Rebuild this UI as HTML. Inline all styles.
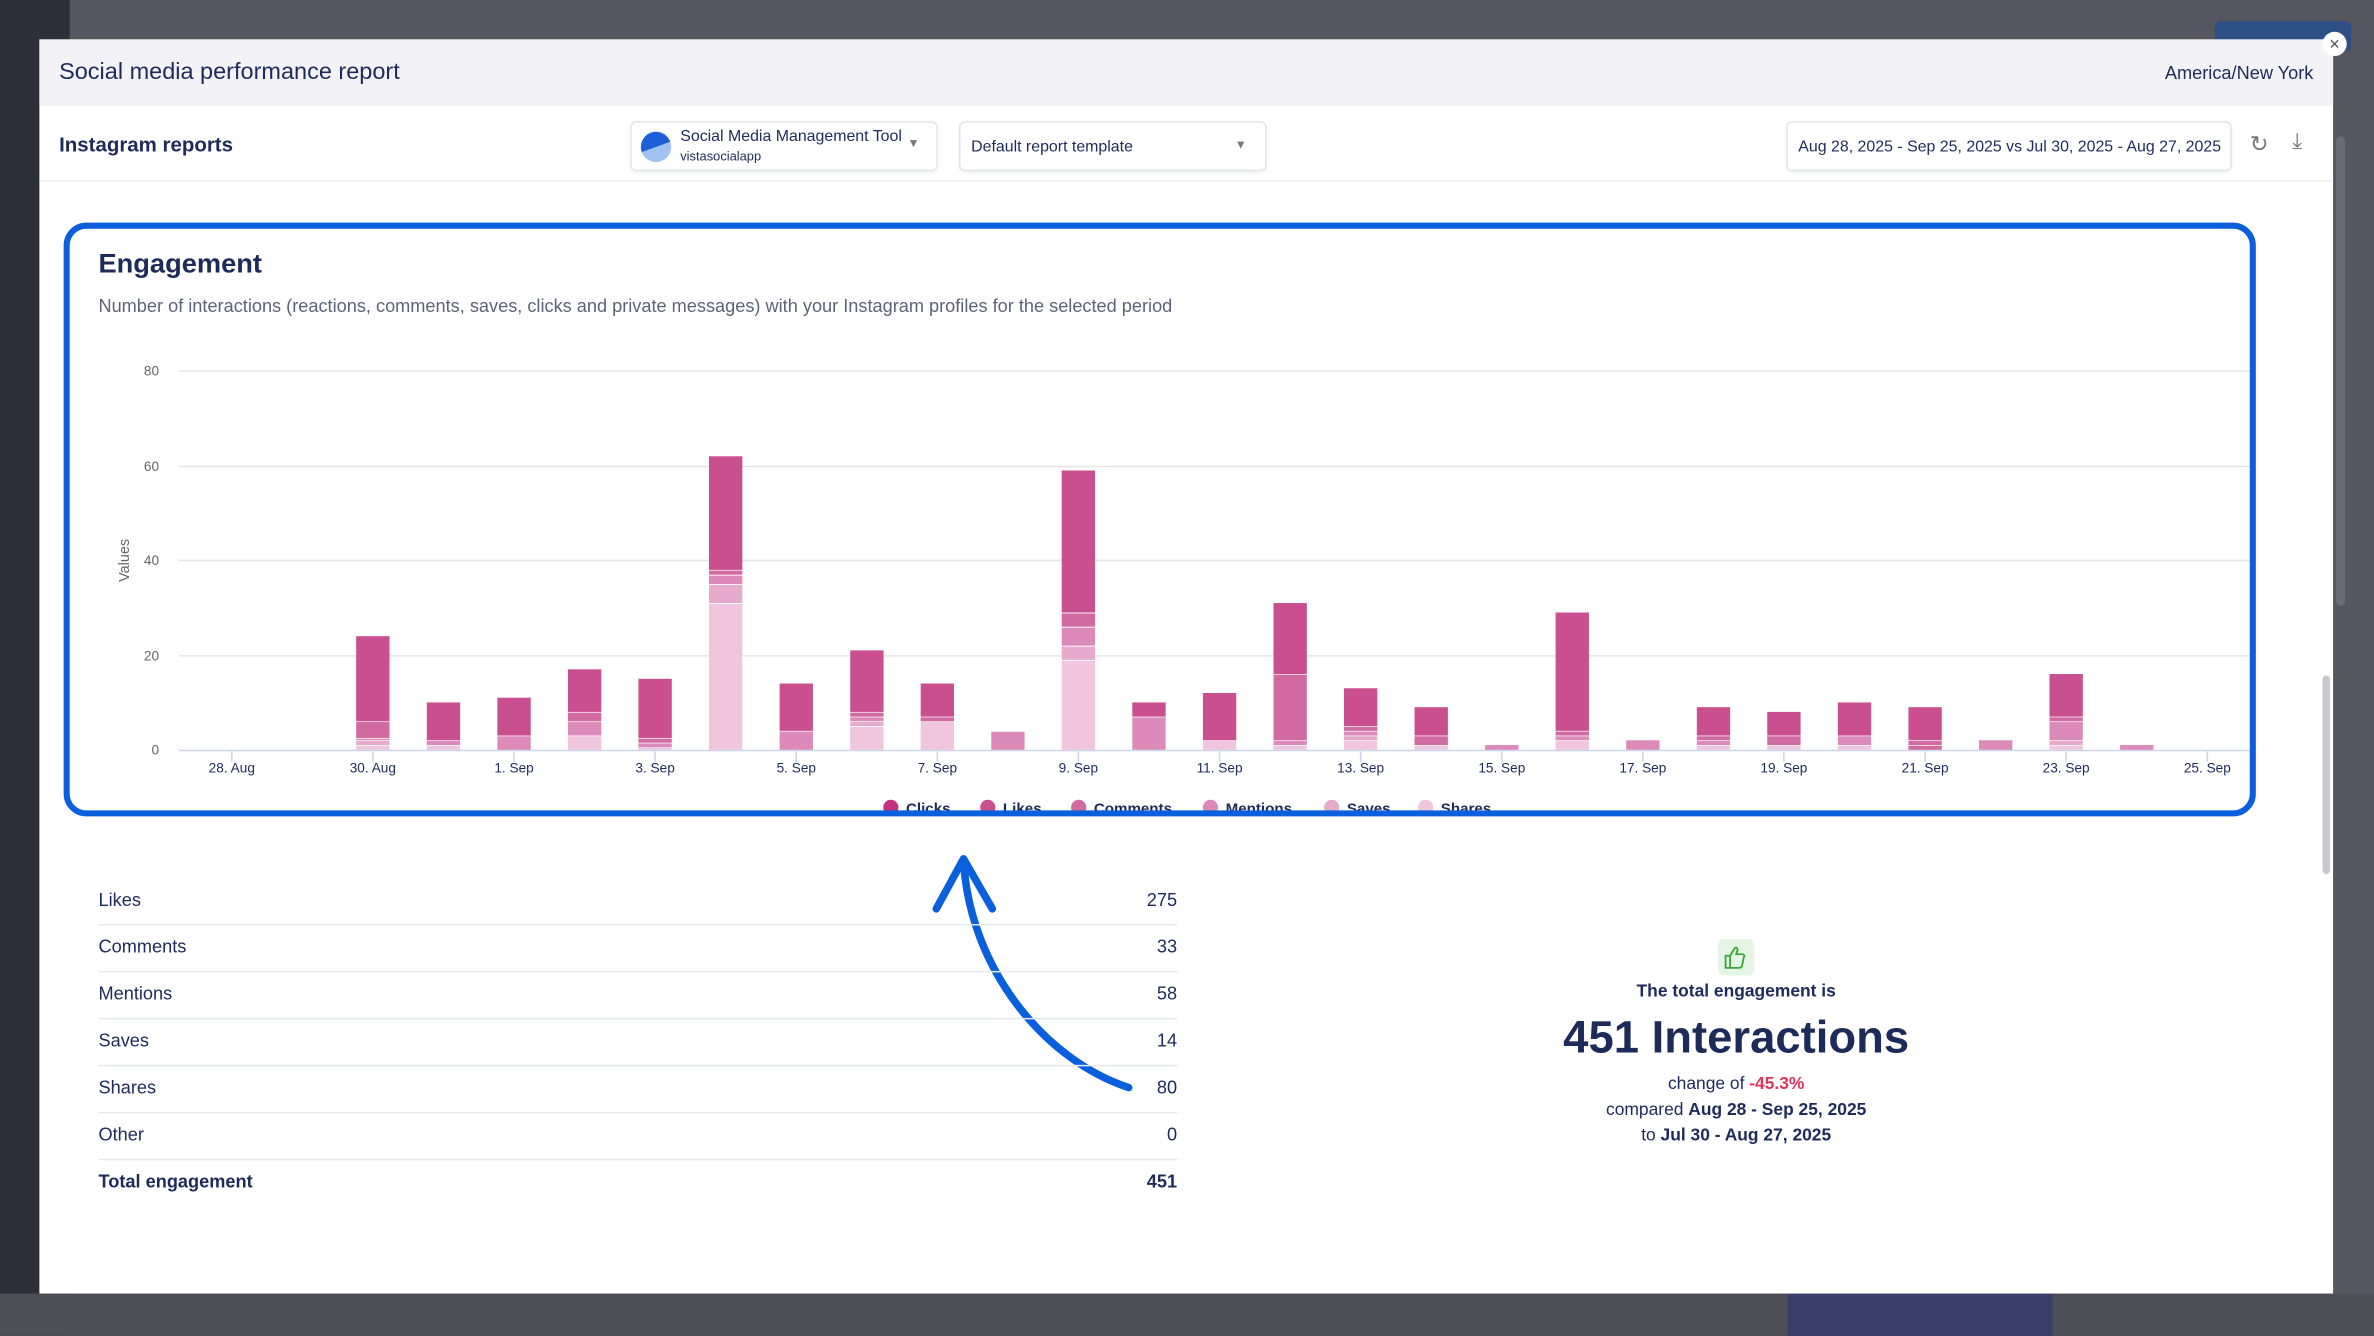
<!DOCTYPE html>
<html><head><meta charset="utf-8"><style>
*{margin:0;padding:0;box-sizing:border-box}
html,body{width:2374px;height:1336px;overflow:hidden;background:#54555e}
#w{position:absolute;left:0;top:0;width:1567px;height:882px;transform:scale(1.515,1.5147);transform-origin:0 0;font-family:"Liberation Sans",sans-serif;color:#1d2b5a;background:#55565f}
.a{position:absolute}
.sb{left:0;top:0;width:46px;height:882px;background:#2c2e38}
.modal{left:26px;top:26px;width:1514px;height:828px;background:#fff}
.hdr{left:0;top:0;width:1514px;height:44px;background:#f3f3f7}
.dd{border:1px solid #e3e5ec;border-radius:4px;background:#fff;font-size:10.5px;box-shadow:0 1px 2px rgba(0,0,0,.06)}
.row{left:39px;width:712px;height:31px;border-bottom:1px solid #e6e8ef;font-size:12px}
.row span{position:absolute;top:7px}
.row .v{right:0}
</style></head><body><div id="w">
<div class="a sb"></div>
<div class="a" style="left:0;top:854px;width:1567px;height:28px;background:#4d4e56"></div>
<div class="a" style="left:1180px;top:854px;width:175px;height:28px;background:#3a3f6a"></div>
<div class="a" style="left:1462px;top:14px;width:90px;height:20px;background:#2d4f86;border-radius:4px"></div>
<div class="a modal">
 <div class="a hdr"></div>
 <div class="a" style="left:13px;top:13px;font-size:15.5px;color:#1d2b5a">Social media performance report</div>
 <div class="a" style="right:13px;top:15px;font-size:12px">America/New York</div>
 <div class="a" style="left:0;top:93px;width:1514px;height:1px;background:#eceef3"></div>
 <div class="a" style="left:13px;top:62px;font-size:13.5px;font-weight:bold">Instagram reports</div>
 <div class="a dd" style="left:390px;top:54px;width:203px;height:33px">
  <div class="a" style="left:6px;top:6px;width:20px;height:20px;border-radius:50%;background:linear-gradient(160deg,#1d5fd6 50%,#9fc2f0 50%)"></div>
  <div class="a" style="left:32px;top:3px;font-size:10.5px;white-space:nowrap;width:150px;overflow:hidden">Social Media Management Tool</div>
  <div class="a" style="left:32px;top:17px;font-size:8.5px">vistasocialapp</div>
  <div class="a" style="left:182px;top:9px;font-size:8px;color:#777">▼</div>
 </div>
 <div class="a dd" style="left:607px;top:54px;width:203px;height:33px"><div class="a" style="left:7px;top:10px">Default report template</div><div class="a" style="left:181px;top:10px;font-size:8px;color:#777">▼</div></div>
 <div class="a dd" style="left:1153px;top:54px;width:294px;height:33px"><div class="a" style="left:7px;top:10px;white-space:nowrap">Aug 28, 2025 - Sep 25, 2025 vs Jul 30, 2025 - Aug 27, 2025</div></div>
 <div class="a" style="left:1459px;top:60px;font-size:15px;color:#777">↻</div>
 <div class="a" style="left:1487px;top:59px;font-size:15px;color:#777">⤓</div>
 <div class="a" style="left:1507px;top:420px;width:5px;height:131px;background:#c8c8cc;border-radius:3px"></div>
</div>
<div class="a" style="left:1533px;top:21px;width:16px;height:16px;border-radius:50%;background:#fff;font-size:12px;text-align:center;line-height:16px;color:#555">×</div>
<div class="a" style="left:1542px;top:90px;width:6px;height:310px;background:#6a6b73;border-radius:3px"></div>

<svg class="a" style="left:0;top:0" width="1567" height="882" viewBox="0 0 1567 882">
<style>.t{font-family:"Liberation Sans",sans-serif}.sh{fill:#efc6de}.sv{fill:#e6aacc}.mn{fill:#dc8aba}.cm{fill:#d06a9f}.lk{fill:#c94f8f}</style>
<text class="t" x="65" y="180" font-size="18" font-weight="bold" fill="#1d2b5a">Engagement</text>
<text class="t" x="65" y="206" font-size="12" fill="#5b6478">Number of interactions (reactions, comments, saves, clicks and private messages) with your Instagram profiles for the selected period</text>
<g stroke="#e6e6e6" stroke-width="1">
<line x1="118" y1="245" x2="1485" y2="245"/><line x1="118" y1="308" x2="1485" y2="308"/><line x1="118" y1="370" x2="1485" y2="370"/><line x1="118" y1="433" x2="1485" y2="433"/></g>
<line x1="118" y1="495.5" x2="1485" y2="495.5" stroke="#ccd6eb"/>
<g class="t" font-size="9" fill="#666" text-anchor="end"><text x="105" y="248">80</text><text x="105" y="311">60</text><text x="105" y="373">40</text><text x="105" y="436">20</text><text x="105" y="498">0</text></g>
<text class="t" font-size="9.5" fill="#666" transform="translate(85,370) rotate(-90)" text-anchor="middle">Values</text>
<g stroke="#ccd6eb"><line x1="153" y1="496" x2="153" y2="503"/><line x1="246.1" y1="496" x2="246.1" y2="503"/><line x1="339.3" y1="496" x2="339.3" y2="503"/><line x1="432.4" y1="496" x2="432.4" y2="503"/><line x1="525.6" y1="496" x2="525.6" y2="503"/><line x1="618.7" y1="496" x2="618.7" y2="503"/><line x1="711.8" y1="496" x2="711.8" y2="503"/><line x1="805" y1="496" x2="805" y2="503"/><line x1="898.1" y1="496" x2="898.1" y2="503"/><line x1="991.3" y1="496" x2="991.3" y2="503"/><line x1="1084.4" y1="496" x2="1084.4" y2="503"/><line x1="1177.5" y1="496" x2="1177.5" y2="503"/><line x1="1270.7" y1="496" x2="1270.7" y2="503"/><line x1="1363.8" y1="496" x2="1363.8" y2="503"/><line x1="1457" y1="496" x2="1457" y2="503"/></g>
<g class="t" font-size="9" fill="#1d2b5a" text-anchor="middle"><text x="153" y="510">28. Aug</text><text x="246.1" y="510">30. Aug</text><text x="339.3" y="510">1. Sep</text><text x="432.4" y="510">3. Sep</text><text x="525.6" y="510">5. Sep</text><text x="618.7" y="510">7. Sep</text><text x="711.8" y="510">9. Sep</text><text x="805" y="510">11. Sep</text><text x="898.1" y="510">13. Sep</text><text x="991.3" y="510">15. Sep</text><text x="1084.4" y="510">17. Sep</text><text x="1177.5" y="510">19. Sep</text><text x="1270.7" y="510">21. Sep</text><text x="1363.8" y="510">23. Sep</text><text x="1457" y="510">25. Sep</text></g>
<g transform="translate(0,495) scale(1,-3.125)">
<g transform="translate(235.1,0)"><rect class="sh" width="22" y="0" height="0.85"/><rect class="sv" width="22" y="1" height="0.85"/><rect class="mn" width="22" y="2" height="0.35"/><rect class="cm" width="22" y="2.5" height="3.35"/><rect class="lk" width="22" y="6" height="18"/></g>
<g transform="translate(281.7,0)"><rect class="sh" width="22" height="0.85"/><rect class="mn" width="22" y="1" height="0.85"/><rect class="lk" width="22" y="2" height="8"/></g>
<g transform="translate(328.3,0)"><rect class="mn" width="22" height="2.85"/><rect class="lk" width="22" y="3" height="8"/></g>
<g transform="translate(374.9,0)"><rect class="sh" width="22" height="2.85"/><rect class="mn" width="22" y="3" height="2.85"/><rect class="cm" width="22" y="6" height="1.85"/><rect class="lk" width="22" y="8" height="9"/></g>
<g transform="translate(421.4,0)"><rect class="sh" width="22" height="0.4"/><rect class="mn" width="22" y="0.5" height="0.85"/><rect class="cm" width="22" y="1.5" height="0.85"/><rect class="lk" width="22" y="2.5" height="12.5"/></g>
<g transform="translate(468,0)"><rect class="sh" width="22" height="30.8"/><rect class="sv" width="22" y="31" height="3.8"/><rect class="mn" width="22" y="35" height="1.8"/><rect class="cm" width="22" y="37" height="0.85"/><rect class="lk" width="22" y="38" height="24"/></g>
<g transform="translate(514.6,0)"><rect class="mn" width="22" height="3.85"/><rect class="lk" width="22" y="4" height="10"/></g>
<g transform="translate(561.2,0)"><rect class="sh" width="22" height="4.8"/><rect class="sv" width="22" y="5" height="0.85"/><rect class="mn" width="22" y="6" height="0.85"/><rect class="cm" width="22" y="7" height="0.85"/><rect class="lk" width="22" y="8" height="13"/></g>
<g transform="translate(607.7,0)"><rect class="sh" width="22" height="5.85"/><rect class="cm" width="22" y="6" height="0.85"/><rect class="lk" width="22" y="7" height="7"/></g>
<g transform="translate(654.3,0)"><rect class="mn" width="22" height="3.8"/></g>
<g transform="translate(700.8,0)"><rect class="sh" width="22" height="18.8"/><rect class="sv" width="22" y="19" height="2.8"/><rect class="mn" width="22" y="22" height="3.8"/><rect class="cm" width="22" y="26" height="2.8"/><rect class="lk" width="22" y="29" height="30"/></g>
<g transform="translate(747.4,0)"><rect class="mn" width="22" height="6.85"/><rect class="lk" width="22" y="7" height="3"/></g>
<g transform="translate(794,0)"><rect class="sh" width="22" height="1.85"/><rect class="lk" width="22" y="2" height="10"/></g>
<g transform="translate(840.6,0)"><rect class="sh" width="22" height="0.85"/><rect class="mn" width="22" y="1" height="0.85"/><rect class="cm" width="22" y="2" height="13.85"/><rect class="lk" width="22" y="16" height="15"/></g>
<g transform="translate(887.1,0)"><rect class="sh" width="22" height="1.85"/><rect class="sv" width="22" y="2" height="0.85"/><rect class="mn" width="22" y="3" height="0.85"/><rect class="cm" width="22" y="4" height="0.85"/><rect class="lk" width="22" y="5" height="8"/></g>
<g transform="translate(933.7,0)"><rect class="sh" width="22" height="0.85"/><rect class="cm" width="22" y="1" height="1.85"/><rect class="lk" width="22" y="3" height="6"/></g>
<g transform="translate(980.3,0)"><rect class="mn" width="22" height="1"/></g>
<g transform="translate(1026.8,0)"><rect class="sh" width="22" height="1.85"/><rect class="mn" width="22" y="2" height="0.85"/><rect class="cm" width="22" y="3" height="0.85"/><rect class="lk" width="22" y="4" height="25"/></g>
<g transform="translate(1073.4,0)"><rect class="mn" width="22" height="2"/></g>
<g transform="translate(1120,0)"><rect class="sh" width="22" height="0.85"/><rect class="mn" width="22" y="1" height="0.85"/><rect class="cm" width="22" y="2" height="0.85"/><rect class="lk" width="22" y="3" height="6"/></g>
<g transform="translate(1166.5,0)"><rect class="sh" width="22" height="0.85"/><rect class="cm" width="22" y="1" height="1.85"/><rect class="lk" width="22" y="3" height="5"/></g>
<g transform="translate(1213.1,0)"><rect class="sh" width="22" height="0.85"/><rect class="mn" width="22" y="1" height="1.85"/><rect class="lk" width="22" y="3" height="7"/></g>
<g transform="translate(1259.7,0)"><rect class="cm" width="22" height="0.85"/><rect class="cm" width="22" y="1" height="0.85"/><rect class="lk" width="22" y="2" height="7"/></g>
<g transform="translate(1306.3,0)"><rect class="mn" width="22" height="2"/></g>
<g transform="translate(1352.8,0)"><rect class="sh" width="22" height="0.85"/><rect class="sv" width="22" y="1" height="0.85"/><rect class="mn" width="22" y="2" height="3.85"/><rect class="cm" width="22" y="6" height="0.85"/><rect class="lk" width="22" y="7" height="9"/></g>
<g transform="translate(1399.4,0)"><rect class="mn" width="22" height="1"/></g>
</g>
<g class="t" font-size="10" font-weight="bold" fill="#1d2b5a">
<circle cx="588" cy="533" r="5" fill="#c2307f"/><text x="598" y="537">Clicks</text>
<circle cx="652" cy="533" r="5" fill="#c94f8f"/><text x="662" y="537">Likes</text>
<circle cx="712" cy="533" r="5" fill="#d06a9f"/><text x="722" y="537">Comments</text>
<circle cx="799" cy="533" r="5" fill="#dc8aba"/><text x="809" y="537">Mentions</text>
<circle cx="879" cy="533" r="5" fill="#e6aacc"/><text x="889" y="537">Saves</text>
<circle cx="941" cy="533" r="5" fill="#efc6de"/><text x="951" y="537">Shares</text></g>
<rect x="44" y="149" width="1443" height="388" rx="13" fill="none" stroke="#0a5fdc" stroke-width="4"/>
<path d="M745,718 C690,700 640,640 636,568" fill="none" stroke="#0a5fdc" stroke-width="5" stroke-linecap="round"/>
<path d="M618,600 L636,567 L655,600" fill="none" stroke="#0a5fdc" stroke-width="5" stroke-linecap="round" stroke-linejoin="round"/>
<rect x="1134" y="620" width="24" height="24" rx="4" fill="#e5f5e5"/>
<path d="M1139,631 h3 v8 h-3z M1142,631 l3,-5 c1,-1 2,0 2,1 l-1,3 h4 c1,0 2,1 1,2 l-1,5 c0,1 -1,2 -2,2 h-6" fill="none" stroke="#3aa53a" stroke-width="1.2"/>
<g class="t" fill="#1d2b5a" text-anchor="middle">
<text x="1146" y="658" font-size="11.5" font-weight="bold">The total engagement is</text>
<text x="1146" y="695" font-size="30" font-weight="bold">451 Interactions</text>
<text x="1146" y="719" font-size="11.5">change of <tspan fill="#e0345a" font-weight="bold">-45.3%</tspan></text>
<text x="1146" y="736" font-size="11.5">compared <tspan font-weight="bold">Aug 28 - Sep 25, 2025</tspan></text>
<text x="1146" y="753" font-size="11.5">to <tspan font-weight="bold">Jul 30 - Aug 27, 2025</tspan></text>
</g>
</svg>
<div class="a row" style="left:65px;top:580px"><span>Likes</span><span class="v">275</span></div>
<div class="a row" style="left:65px;top:611px"><span>Comments</span><span class="v">33</span></div>
<div class="a row" style="left:65px;top:642px"><span>Mentions</span><span class="v">58</span></div>
<div class="a row" style="left:65px;top:673px"><span>Saves</span><span class="v">14</span></div>
<div class="a row" style="left:65px;top:704px"><span>Shares</span><span class="v">80</span></div>
<div class="a row" style="left:65px;top:735px"><span>Other</span><span class="v">0</span></div>
<div class="a row" style="left:65px;top:766px;border:none;font-weight:bold"><span>Total engagement</span><span class="v">451</span></div>
</div></body></html>
